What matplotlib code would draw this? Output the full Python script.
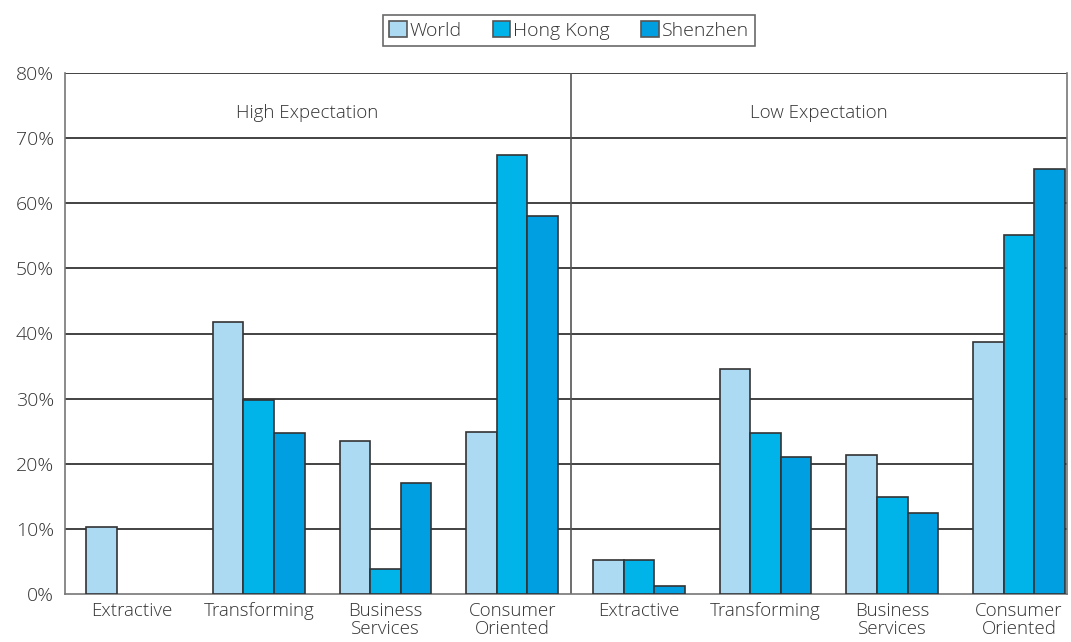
import numpy as np
import matplotlib.pyplot as plt

# expectation survey, share of firms by sector
panels = ['High Expectation', 'Low Expectation']
sectors = ['Extractive', 'Transforming', 'Business\nServices', 'Consumer\nOriented']
series = ['World', 'Hong Kong', 'Shenzhen']

world = [10.3, 41.7, 23.5, 24.9, 5.2, 34.6, 21.3, 38.7]
hong_kong = [0.0, 29.8, 3.8, 67.4, 5.2, 24.7, 14.9, 55.1]
shenzhen = [0.0, 24.7, 17.1, 58.0, 1.2, 21.1, 12.5, 65.3]

colors = ['#acdaf3', '#00b3e8', '#009fe2']
edge = '#333333'
txt = '#333333'

plt.rcParams['font.family'] = ['Open Sans', 'DejaVu Sans']
plt.rcParams['font.weight'] = 'light'

fig = plt.figure(figsize=(10.71, 6.42), dpi=100)
ax = fig.add_axes([65 / 1071, 1 - 594 / 642, 1002 / 1071, 521 / 642])

x = np.arange(len(world))
w = 0.242
for k, (vals, name) in enumerate(zip([world, hong_kong, shenzhen], series)):
    v = np.array(vals)
    keep = v > 0
    ax.bar(x[keep] + (k - 1) * w, v[keep], width=w, color=colors[k],
           edgecolor=edge, linewidth=1.2, label=name, zorder=3)

ax.set_xlim(-0.53, 7.38)
ax.set_ylim(0, 80)
ax.set_yticks(np.arange(0, 81, 10))
ax.set_yticklabels([f'{t}%' for t in range(0, 81, 10)], fontsize=14, color=txt)
ax.set_xticks(x)
ax.set_xticklabels(sectors * 2, fontsize=13.5, color=txt, linespacing=0.95)
ax.tick_params(length=0, pad=8)
ax.tick_params(axis='x', pad=6)

for t in range(10, 81, 10):
    ax.axhline(t, color='#222222', linewidth=1.2, zorder=1)

divider = 3.465
ax.axvline(divider, color='#555555', linewidth=1.2, zorder=2)

for sp in ['left', 'right', 'bottom']:
    ax.spines[sp].set_color('#777777')
    ax.spines[sp].set_linewidth(1.2)
ax.spines['top'].set_visible(False)

ax.text(1.38, 73.9, panels[0], ha='center', va='center', fontsize=13.5, color=txt)
ax.text(5.42, 73.9, panels[1], ha='center', va='center', fontsize=13.5, color=txt)

leg = fig.legend(loc='center', bbox_to_anchor=(569 / 1071, 1 - 30.5 / 642), ncol=3,
                 fontsize=14, frameon=True, fancybox=False, handlelength=0.9,
                 handleheight=0.9, handletextpad=0.15, columnspacing=1.6,
                 borderpad=0.3, labelcolor=txt)
leg.get_frame().set_edgecolor('#444444')
leg.get_frame().set_linewidth(1.2)
for h in leg.legend_handles:
    h.set_edgecolor('#555555')

fig.savefig('out.png', dpi=100)
